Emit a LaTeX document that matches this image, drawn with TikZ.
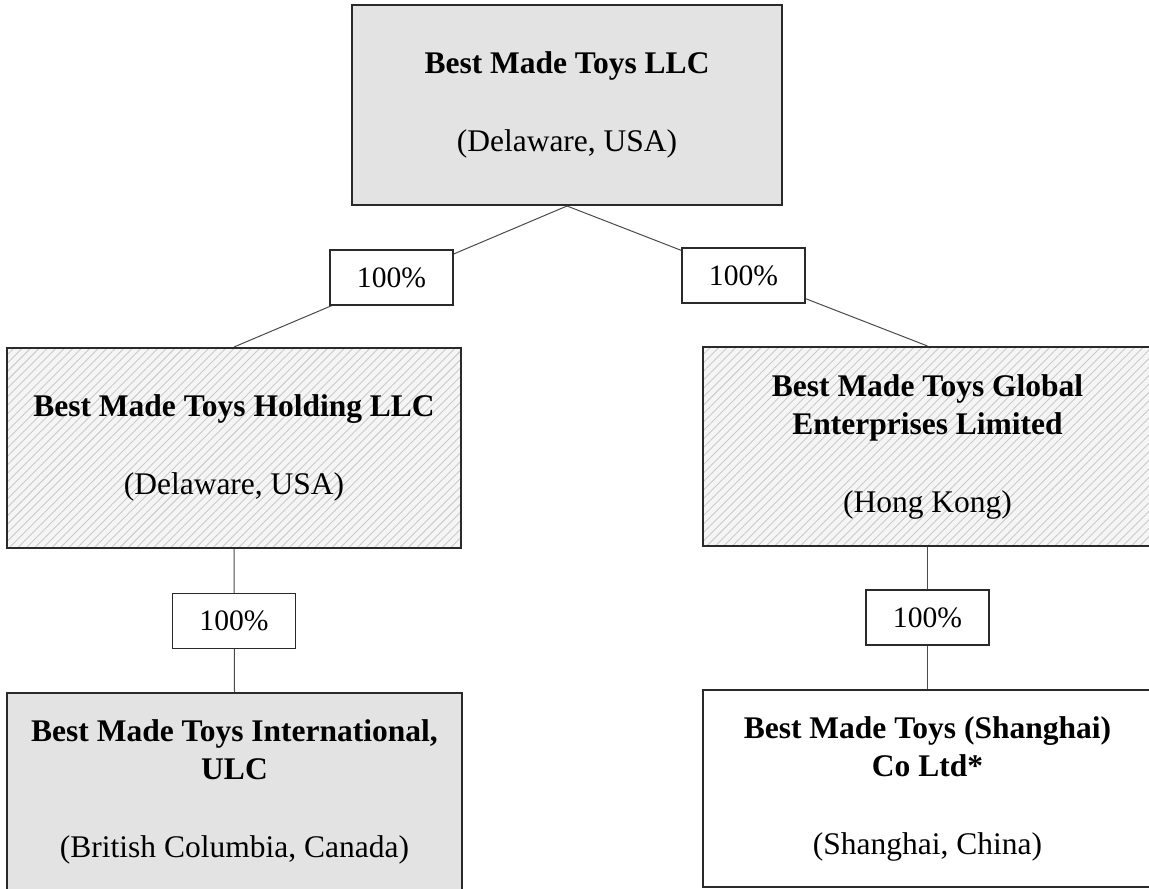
\documentclass[tikz,border=0pt]{standalone}
\usepackage{fontspec}
\setmainfont{Liberation Serif}
\usetikzlibrary{patterns.meta}
\definecolor{boxgray}{HTML}{E3E3E3}
\definecolor{hatchbg}{HTML}{F5F5F5}
\definecolor{hatchline}{HTML}{CACACA}
\definecolor{edgecol}{HTML}{2A2A2A}
\definecolor{linkcol}{HTML}{4A4A4A}
\begin{document}
\begin{tikzpicture}[x=0.5pt,y=-0.5pt,
  entity/.style={draw=edgecol, line width=1pt, align=center, inner sep=0pt,
    font=\fontsize{15.75}{19}\selectfont},
  solidgray/.style={entity, fill=boxgray},
  hatched/.style={entity, preaction={fill=hatchbg},
    preaction={pattern={Lines[angle=45,distance=3pt,line width=0.45pt]}, pattern color=hatchline}},
  plainbox/.style={entity, fill=white},
  pct/.style={draw=edgecol, line width=0.9pt, fill=white, minimum width=61.5pt,
    minimum height=27.5pt, inner sep=0pt, font=\fontsize{14.8}{17}\selectfont},
  link/.style={draw=linkcol, line width=0.5pt}]
\useasboundingbox (0,0) rectangle (1149,888);

\node[solidgray, minimum width=215pt, minimum height=100pt] (top) at (567,105)
  {\textbf{Best Made Toys LLC}\\[20pt](Delaware, USA)};
\node[hatched, minimum width=227pt, minimum height=100pt] (hold) at (234,448)
  {\textbf{Best Made Toys Holding LLC}\\[20pt](Delaware, USA)};
\node[hatched, minimum width=224.5pt, minimum height=99.5pt] (glob) at (927.5,446.5)
  {\textbf{Best Made Toys Global}\\\textbf{Enterprises Limited}\\[20pt](Hong Kong)};
\node[solidgray, minimum width=227.5pt, minimum height=98.5pt] (intl) at (234.5,791.5)
  {\textbf{Best Made Toys International,}\\\textbf{ULC}\\[20pt](British Columbia, Canada)};
\node[plainbox, minimum width=224.5pt, minimum height=98.5pt] (shang) at (927.5,788.5)
  {\textbf{Best Made Toys (Shanghai)}\\\textbf{Co Ltd*}\\[20pt](Shanghai, China)};

\draw[link] (top.south) -- (hold.north);
\draw[link] (top.south) -- (glob.north);
\draw[link] (hold.south) -- (intl.north);
\draw[link] (glob.south) -- (shang.north);

\node[pct] (p1) at (391.5,277.5) {100\%};
\node[pct] (p2) at (743.5,275.5) {100\%};
\node[pct] (p3) at (234,621) {100\%};
\node[pct] (p4) at (927.5,617.5) {100\%};
\end{tikzpicture}
\end{document}
